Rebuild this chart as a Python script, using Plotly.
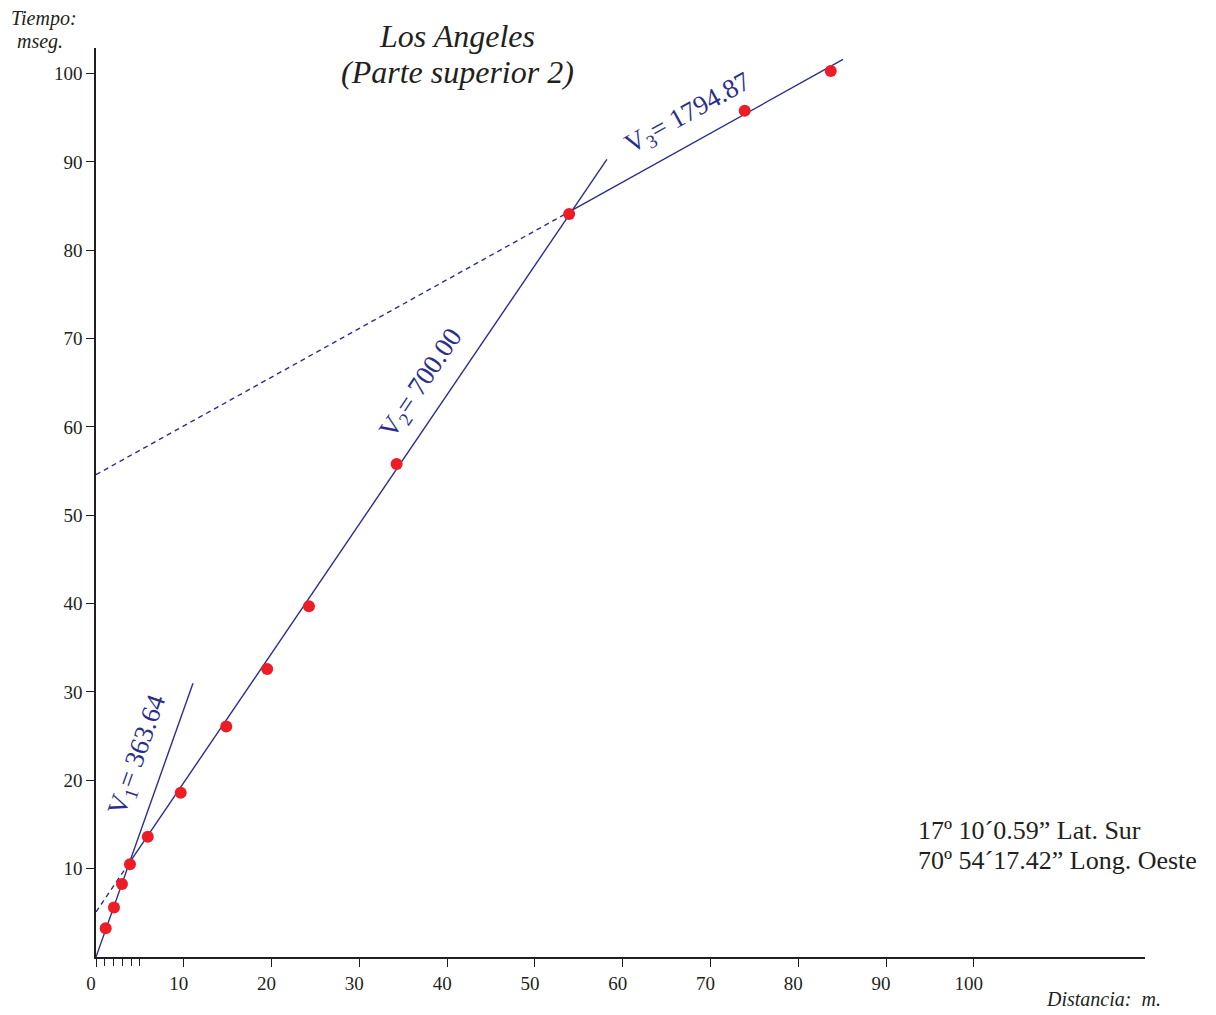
import plotly.graph_objects as go

# ---- data ----
dist = [1.1, 2.05, 2.96, 3.87, 5.9, 9.65, 14.84, 19.5, 24.26, 34.25, 53.9, 73.9, 83.7]
tiempo = [3.25, 5.6, 8.27, 10.5, 13.6, 18.6, 26.1, 32.6, 39.7, 55.8, 84.1, 95.8, 100.3]

# fitted segments (x, y endpoints)
v1_x = [0, 11.05]
v1_y = [0, 31.0]
v2_dash_x = [0, 3.87]
v2_dash_y = [5.1, 10.77]
v2_x = [3.87, 58.2]
v2_y = [10.77, 90.3]
v3_dash_x = [0, 53.9]
v3_dash_y = [54.6, 84.35]
v3_x = [53.9, 85.1]
v3_y = [84.35, 101.6]

x_ticks = [0, 10, 20, 30, 40, 50, 60, 70, 80, 90, 100]
x_minor = [1, 2, 3, 4, 5]
y_ticks = [10, 20, 30, 40, 50, 60, 70, 80, 90, 100]

labels = ["V<sub>1</sub>= 363.64", "V<sub>2</sub>= 700.00", "V<sub>3</sub>= 1794.87"]

OFF = 8  # page body margin
W, H = 1200, 1007
L = 96 - OFF
T = 48 - OFF
R = W - (1145 - OFF)
B = H - (957 - OFF)
XMAX, YMAX = 119.5, 102.9

NAVY = "#2b2e8c"
RED = "#ee1c25"
INK = "#231f20"
SERIF = "Liberation Serif, Times New Roman, serif"


def px(xp):
    return (xp - OFF - L) / (W - L - R)


def py(yp):
    return (H - B - (yp - OFF)) / (H - T - B)


fig = go.Figure()

line_style = dict(color=NAVY, width=1.4)
dash_style = dict(color=NAVY, width=1.4, dash="5px,4px")

fig.add_trace(go.Scatter(x=v1_x, y=v1_y, mode="lines", line=line_style, hoverinfo="skip"))
fig.add_trace(go.Scatter(x=v2_dash_x, y=v2_dash_y, mode="lines", line=dash_style, hoverinfo="skip"))
fig.add_trace(go.Scatter(x=v2_x, y=v2_y, mode="lines", line=line_style, hoverinfo="skip"))
fig.add_trace(go.Scatter(x=v3_dash_x, y=v3_dash_y, mode="lines", line=dash_style, hoverinfo="skip"))
fig.add_trace(go.Scatter(x=v3_x, y=v3_y, mode="lines", line=line_style, hoverinfo="skip"))
fig.add_trace(go.Scatter(x=dist, y=tiempo, mode="markers",
                         marker=dict(color=RED, size=12, line=dict(width=0))))

annotations = [
    dict(x=4.8, y=22.9, text=labels[0], textangle=-70.5, font=dict(size=27, color=NAVY, family=SERIF)),
    dict(x=37.1, y=64.9, text=labels[1], textangle=-56, font=dict(size=27, color=NAVY, family=SERIF)),
    dict(x=67.5, y=95.4, text=labels[2], textangle=-29, font=dict(size=27, color=NAVY, family=SERIF)),
]
for a in annotations:
    a.update(xref="x", yref="y", showarrow=False, xanchor="center", yanchor="middle")

paper_txt = [
    dict(x=px(457), y=py(36), text="<i>Los Angeles</i>", size=32, xanchor="center"),
    dict(x=px(457), y=py(72), text="<i>(Parte superior 2)</i>", size=32, xanchor="center"),
    dict(x=px(44), y=py(18), text="<i>Tiempo:</i>", size=20, xanchor="center"),
    dict(x=px(40), y=py(42), text="<i>mseg.</i>", size=20, xanchor="center"),
    dict(x=px(1103), y=py(999), text="<i>Distancia:  m.</i>", size=20, xanchor="center"),
    dict(x=px(916), y=py(830), text="17º 10´0.59” Lat. Sur", size=26, xanchor="left"),
    dict(x=px(916), y=py(860), text="70º 54´17.42” Long. Oeste", size=26, xanchor="left"),
]
for t in paper_txt:
    annotations.append(dict(x=t["x"], y=t["y"], xref="paper", yref="paper", text=t["text"],
                            showarrow=False, xanchor=t["xanchor"], yanchor="middle",
                            font=dict(size=t["size"], color=INK, family=SERIF)))

fig.update_layout(
    width=W, height=H,
    margin=dict(l=L, r=R, t=T, b=B),
    paper_bgcolor="white", plot_bgcolor="white",
    showlegend=False,
    annotations=annotations,
    font=dict(family=SERIF, color=INK),
    xaxis=dict(range=[0, XMAX], showgrid=False, zeroline=False, showline=True,
               linecolor=INK, linewidth=1.6,
               tickmode="array", tickvals=x_ticks, ticktext=[str(v) for v in x_ticks],
               ticks="outside", ticklen=8, tickwidth=1, tickcolor=INK,
               ticklabelshift=-5,
               minor=dict(tickmode="array", tickvals=x_minor, ticks="outside", ticklen=7,
                          tickwidth=1, tickcolor=INK),
               tickfont=dict(size=19, family=SERIF, color=INK)),
    yaxis=dict(range=[0, YMAX], showgrid=False, zeroline=False, showline=True,
               linecolor=INK, linewidth=1.6,
               tickmode="array", tickvals=y_ticks, ticktext=[str(v) for v in y_ticks],
               ticks="outside", ticklen=8, tickwidth=1, tickcolor=INK,
               tickfont=dict(size=19, family=SERIF, color=INK)),
)

fig.write_html("out.html")
